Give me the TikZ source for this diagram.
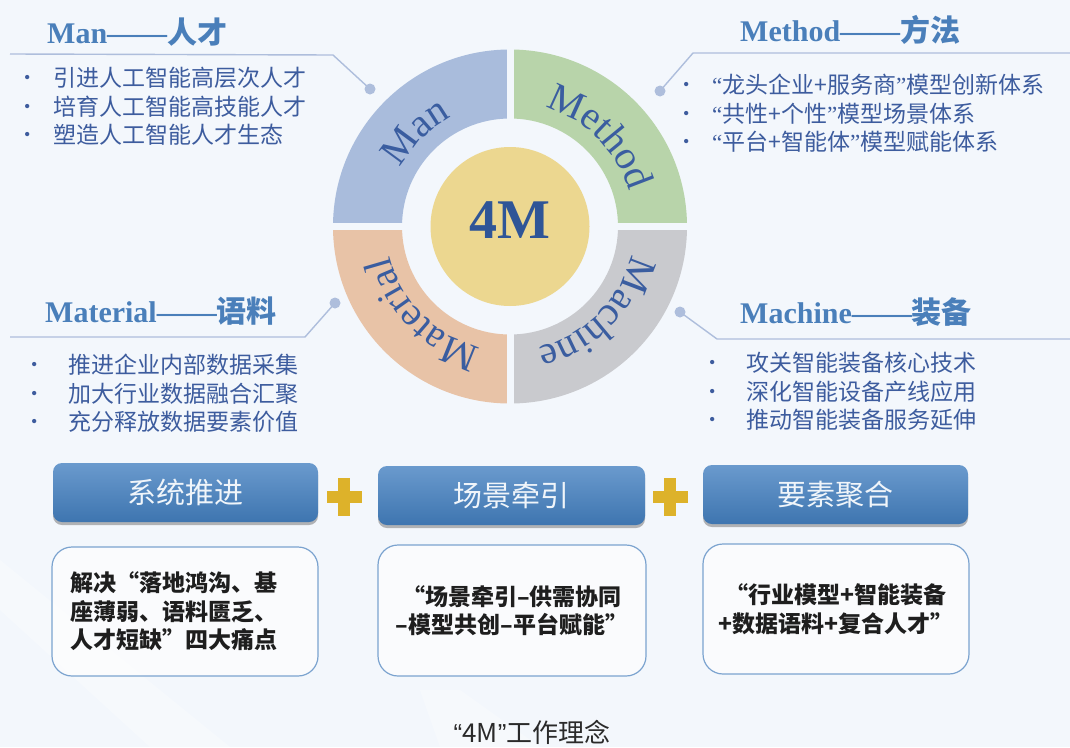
\documentclass[tikz,border=0pt]{standalone}
\usepackage{fontspec}
\setmainfont{Liberation Serif}
\newfontfamily\cjk{Noto Sans CJK SC}
\newfontfamily\latinsans{Liberation Sans}
\usetikzlibrary{positioning, decorations.text, shadows}

\definecolor{bgcol}{HTML}{F3F7FC}
\definecolor{mancol}{HTML}{A9BCDC}
\definecolor{methodcol}{HTML}{B8D4AA}
\definecolor{materialcol}{HTML}{E8C3A7}
\definecolor{machinecol}{HTML}{C9CACE}
\definecolor{corecol}{HTML}{ECD790}
\definecolor{ringtext}{HTML}{3A5DA0}
\definecolor{fourmcol}{HTML}{2F5597}
\definecolor{titlecol}{HTML}{4A7FBA}
\definecolor{bulcol}{HTML}{3D5C9E}
\definecolor{leadcol}{HTML}{AEBEDC}
\definecolor{btntop}{HTML}{6A9ACD}
\definecolor{btnbot}{HTML}{3E75B0}
\definecolor{pluscol}{HTML}{DDB22A}
\definecolor{descborder}{HTML}{7BA3CF}
\definecolor{desctext}{HTML}{1E1E1E}
\definecolor{capcol}{HTML}{2A2A2A}

\newcommand{\ringfont}{\fontsize{40}{44}\selectfont}
\newcommand{\oq}{{\rmfamily “}}
\newcommand{\cq}{{\rmfamily ”}}
\newcommand{\bullist}[5]{%
  \foreach \itm [count=\i] in {#5}
    \node[bul] (#1-\i) at (#2, {-#4-28.5*(\i-1)}) {\makebox[#3pt][l]{\raisebox{3pt}{\rmfamily\fontsize{18}{18}\selectfont\textbullet}}\itm};
}

\tikzset{
  leader/.style={draw=leadcol, line width=1.4pt},
  ttl/.style={anchor=base west, inner sep=0pt, text=titlecol, font=\fontsize{30}{36}\selectfont\bfseries},
  bul/.style={anchor=base west, inner sep=0pt, text=bulcol, font=\cjk\fontsize{23}{28}\selectfont},
  btn/.style={rounded corners=9pt, top color=btntop, bottom color=btnbot, minimum width=265pt, minimum height=59pt, inner sep=0pt, text=white!90!btntop, font=\cjk\fontsize{29}{34}\selectfont, drop shadow={shadow xshift=0pt, shadow yshift=-3pt, opacity=0.4, fill=black!70}},
  desc/.style={draw=descborder, line width=1.2pt, fill=white, fill opacity=0.6, text opacity=1, rounded corners=20pt, minimum width=266pt, minimum height=129pt, text=desctext, font=\cjk\bfseries\fontsize{23}{28.5}\selectfont},
  ringlabel/.style={decorate, decoration={text along path, text align=center, text color=ringtext, text={|\ringfont|#1}}}
}

\begin{document}
\begin{tikzpicture}[x=1pt, y=1pt]
	\useasboundingbox (0,0) rectangle (1070,-747);
	\fill[bgcol] (0,0) rectangle (1070,-747);
	\fill[white, opacity=0.3] (0,-560) -- (0,-610) -- (150,-747) -- (230,-747) -- cycle;
	\fill[white, opacity=0.3] (420,-690) -- (460,-690) -- (540,-747) -- (440,-747) -- cycle;

	% the ring
	\begin{scope}[shift={(510,-226.5)}]
		\fill[mancol] (180:108) arc[start angle=180, end angle=90, radius=108] -- (90:177) arc[start angle=90, end angle=180, radius=177] -- cycle;
		\fill[methodcol] (90:108) arc[start angle=90, end angle=0, radius=108] -- (0:177) arc[start angle=0, end angle=90, radius=177] -- cycle;
		\fill[machinecol] (0:108) arc[start angle=0, end angle=-90, radius=108] -- (-90:177) arc[start angle=-90, end angle=0, radius=177] -- cycle;
		\fill[materialcol] (-90:108) arc[start angle=-90, end angle=-180, radius=108] -- (-180:177) arc[start angle=-180, end angle=-90, radius=177] -- cycle;
		\draw[bgcol, line width=7pt] (-180,0) -- (180,0) (0,-180) -- (0,180);
		\node[circle, fill=corecol, minimum size=159pt, inner sep=0pt] (core) at (0,0) {};
		\node[text=fourmcol, font=\fontsize{56}{60}\selectfont\bfseries] (fourm) at (0,6) {4M};
		\path[ringlabel=Man] (180:124) arc[start angle=180, end angle=90, radius=124];
		\path[ringlabel=Method] (90:124) arc[start angle=90, end angle=0, radius=124];
		\path[ringlabel=Machine] (0:124) arc[start angle=0, end angle=-90, radius=124];
		\path[ringlabel=Material] (-90:124) arc[start angle=-90, end angle=-180, radius=124];
	\end{scope}

	% titles and leader lines
	\node[ttl] (mantitle) at (47,-43) {Man——{\cjk 人才}};
	\node[ttl] (methodtitle) at (740,-41) {Method——{\cjk 方法}};
	\node[ttl] (materialtitle) at (45,-322) {Material——{\cjk 语料}};
	\node[ttl] (machinetitle) at (740,-323) {Machine——{\cjk 装备}};

	\coordinate (manA) at (10,-54);
	\coordinate (manB) at (333,-55);
	\coordinate (mandot) at (370,-89);
	\coordinate (methodA) at (1070,-53);
	\coordinate (methodB) at (693,-53);
	\coordinate (methoddot) at (660,-91);
	\coordinate (materialA) at (10,-337);
	\coordinate (materialB) at (305,-337);
	\coordinate (materialdot) at (335,-303);
	\coordinate (machineA) at (1070,-339);
	\coordinate (machineB) at (717,-339);
	\coordinate (machinedot) at (680,-312);
	\draw[leader] (manA) -- (manB) -- (mandot);
	\draw[leader] (methodA) -- (methodB) -- (methoddot);
	\draw[leader] (materialA) -- (materialB) -- (materialdot);
	\draw[leader] (machineA) -- (machineB) -- (machinedot);
	\fill[leadcol] (mandot) circle[radius=5.5];
	\fill[leadcol] (methoddot) circle[radius=5.5];
	\fill[leadcol] (materialdot) circle[radius=5.5];
	\fill[leadcol] (machinedot) circle[radius=5.5];

	% bullet lists
	\bullist{manlist}{24}{29}{86.5}{引进人工智能高层次人才, 培育人工智能高技能人才, 塑造人工智能人才生态}
	\bullist{methodlist}{683}{29}{93.5}{\oq 龙头企业+服务商\cq 模型创新体系, \oq 共性+个性\cq 模型场景体系, \oq 平台+智能体\cq 模型赋能体系}
	\bullist{materiallist}{31}{37}{373.5}{推进企业内部数据采集, 加大行业数据融合汇聚, 充分释放数据要素价值}
	\bullist{machinelist}{709}{37}{371.5}{攻关智能装备核心技术, 深化智能设备产线应用, 推动智能装备服务延伸}

	% bottom row
	\node[btn] (btn1) at (185.5,-492.5) {系统推进};
	\node[btn, minimum width=267pt] (btn2) at (511.5,-495.5) {场景牵引};
	\node[btn] (btn3) at (835.5,-494.5) {要素聚合};
	\foreach \px in {344,670} {
		\fill[pluscol] (\px-17.5,-503) rectangle (\px+17.5,-491);
		\fill[pluscol] (\px-6,-516) rectangle (\px+6,-478);
	}

	\node[desc, align=left, text width=230pt] (desc1) at (185,-611.5) {解决“落地鸿沟、基\\座薄弱、语料匮乏、\\人才短缺”四大痛点};
	\node[desc, align=center, minimum width=268pt, minimum height=131pt] (desc2) at (512,-610.5) {“场景牵引–供需协同\\–模型共创–平台赋能”};
	\node[desc, align=center, minimum height=130pt] (desc3) at (836,-609) {“行业模型+智能装备\\+数据语料+复合人才”};

	\node[anchor=base, text=capcol, font=\cjk\fontsize{26}{30}\selectfont] (caption) at (532,-742) {{\latinsans “}4M{\latinsans ”}工作理念};
\end{tikzpicture}
\end{document}
